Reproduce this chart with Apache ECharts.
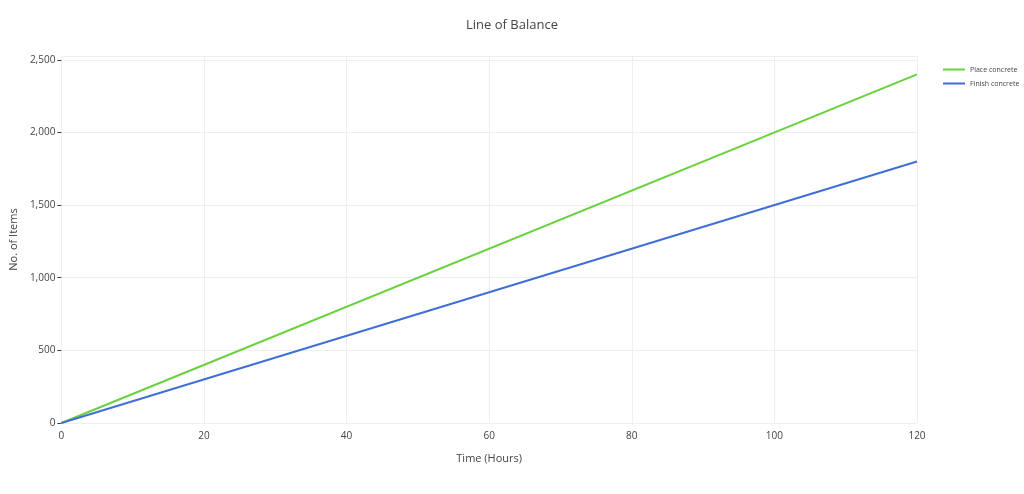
<!DOCTYPE html>
<html><head><meta charset="utf-8">
<script src="https://cdn.jsdelivr.net/npm/echarts@6/dist/echarts.min.js"></script>
<style>html,body{margin:0;padding:0;background:#fff}#c{width:1024px;height:494px}</style>
</head><body><div id="c"></div>
<script>
const timeHours = [0, 120];
const placeConcrete = [0, 2400];
const finishConcrete = [0, 1800];
const seriesNames = ['Place concrete', 'Finish concrete'];
const chart = echarts.init(document.getElementById('c'));
const font = '"Open Sans", Verdana, sans-serif';
chart.setOption({
  animation: false,
  title: {text: 'Line of Balance', left: 'center', top: 14, textStyle: {fontFamily: font, fontSize: 13, fontWeight: 'normal', color: '#444'}},
  legend: {orient: 'vertical', left: 938, top: 61, itemWidth: 22, itemHeight: 2, itemGap: 7, icon: 'rect',
    textStyle: {fontFamily: font, fontSize: 7, color: '#444'}},
  grid: {left: 57, right: 107, top: 56, bottom: 71},
  xAxis: {type: 'value', min: 0, max: 120, interval: 20, name: 'Time (Hours)', nameLocation: 'middle', nameGap: 30,
    nameTextStyle: {fontFamily: font, fontSize: 11, color: '#444'},
    axisLine: {show: false}, axisTick: {show: false},
    axisLabel: {fontFamily: font, fontSize: 10, color: '#444'},
    splitLine: {lineStyle: {color: '#eee'}}},
  yAxis: {type: 'value', min: 0, max: 2526, interval: 500, name: 'No. of Items', nameLocation: 'middle', nameGap: 40,
    nameTextStyle: {fontFamily: font, fontSize: 11, color: '#444'},
    axisLine: {show: false}, axisTick: {show: true, length: 4, lineStyle: {color: '#444'}},
    axisLabel: {fontFamily: font, fontSize: 10, color: '#444', showMaxLabel: false, margin: 6},
    splitLine: {lineStyle: {color: '#eee'}}},
  series: [
    {name: seriesNames[0], type: 'line', showSymbol: false, data: timeHours.map((x,i)=>[x, placeConcrete[i]]), lineStyle: {color: '#6ad13e', width: 2}, itemStyle: {color: '#6ad13e'}},
    {name: seriesNames[1], type: 'line', showSymbol: false, data: timeHours.map((x,i)=>[x, finishConcrete[i]]), lineStyle: {color: '#3f6fd6', width: 2}, itemStyle: {color: '#3f6fd6'}}
  ]
});
</script></body></html>
